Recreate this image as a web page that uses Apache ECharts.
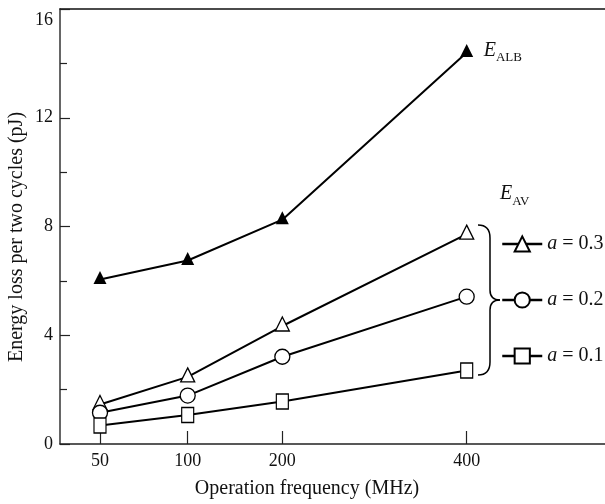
<!DOCTYPE html>
<html>
<head>
<meta charset="utf-8">
<script src="https://cdn.jsdelivr.net/npm/echarts@6/dist/echarts.min.js"></script>
<style>html,body{margin:0;padding:0;background:#fff}#c{width:605px;height:504px}</style>
</head>
<body>
<div id="c"></div>
<script>
// Data
const freqLabels = ['50', '100', '200', '400'];
// frequency positions on the (non-uniform) horizontal scale of the original figure
const freqPos = [1, 2, 3.079, 5.181];
const eALB = [6.05, 6.75, 8.25, 14.4];
const eAV03 = [1.45, 2.47, 4.34, 7.72];
const eAV02 = [1.15, 1.78, 3.21, 5.42];
const eAV01 = [0.68, 1.07, 1.56, 2.7];
const avNames = ['a = 0.3', 'a = 0.2', 'a = 0.1'];
const yTicks = [0, 4, 8, 12, 16];

const FONT = '"Liberation Serif", "Times New Roman", serif';
const pts = vals => freqPos.map((x, i) => [x, vals[i]]);

const chart = echarts.init(document.getElementById('c'), null, {renderer: 'canvas'});

const openStyle = {color: '#fff', borderColor: '#000', borderWidth: 1.3};
const lineStyle = {color: '#000', width: 2};

function labelFor(v) {
  let best = 0;
  for (let i = 1; i < freqPos.length; i++) {
    if (Math.abs(freqPos[i] - v) < Math.abs(freqPos[best] - v)) best = i;
  }
  return freqLabels[best];
}

const braceStyle = {fill: 'none', stroke: '#000', lineWidth: 1.5};
const quad = (x1, y1, cx, cy, x2, y2) => ({
  type: 'bezierCurve', shape: {x1: x1, y1: y1, cpx1: cx, cpy1: cy, x2: x2, y2: y2}, style: braceStyle
});
const seg = (x1, y1, x2, y2) => ({type: 'line', shape: {x1: x1, y1: y1, x2: x2, y2: y2}, style: braceStyle});

const option = {
  animation: false,
  backgroundColor: '#fff',
  grid: {left: 60, right: 0, top: 9, bottom: 60, containLabel: false},
  xAxis: [{
    type: 'value', min: 0.544, max: 6.758, position: 'bottom',
    axisLine: {show: true, lineStyle: {color: '#222', width: 1.5}},
    axisTick: {show: true, inside: true, length: 13, customValues: freqPos, lineStyle: {color: '#222', width: 1.2}},
    axisLabel: {customValues: freqPos, formatter: v => labelFor(v), fontFamily: FONT, fontSize: 18, color: '#111', margin: 8},
    splitLine: {show: false}
  }, {
    type: 'value', min: 0.544, max: 6.758, position: 'top',
    axisLine: {show: true, lineStyle: {color: '#111', width: 1.5}},
    axisTick: {show: false}, axisLabel: {show: false}, splitLine: {show: false}
  }],
  yAxis: {
    type: 'value', min: yTicks[0], max: yTicks[yTicks.length - 1], interval: 4,
    axisLine: {show: true, lineStyle: {color: '#333', width: 1.5}},
    axisTick: {show: true, inside: true, length: 10, lineStyle: {color: '#222', width: 1.2}},
    minorTick: {show: true, splitNumber: 2, length: 7, lineStyle: {color: '#222', width: 1.2}},
    axisLabel: {
      fontFamily: FONT, fontSize: 18, color: '#111', margin: 7,
      formatter: v => v === 16 ? '{t|16}' : String(v),
      rich: {t: {fontFamily: FONT, fontSize: 18, color: '#111', padding: [22, 0, 0, 0]}}
    },
    splitLine: {show: false}
  },
  legend: {
    data: avNames, orient: 'vertical', left: 501, top: 234, padding: 0,
    itemWidth: 40, itemHeight: 19, itemGap: 36, selectedMode: false,
    lineStyle: {width: 2.5, color: '#000'},
    formatter: n => '{i|a}{n|' + n.slice(1) + '}',
    textStyle: {
      fontFamily: FONT, fontSize: 20, color: '#111',
      rich: {
        i: {fontFamily: FONT, fontSize: 20, fontStyle: 'italic', color: '#111'},
        n: {fontFamily: FONT, fontSize: 20, color: '#111'}
      }
    }
  },
  series: [
    {
      name: 'E_ALB', type: 'line', data: pts(eALB),
      symbol: 'triangle', symbolSize: [13, 13], symbolOffset: [0, -2],
      itemStyle: {color: '#000'}, lineStyle: lineStyle,
      endLabel: {
        show: true, distance: 17, formatter: '{e|E}{s|ALB}',
        rich: {
          e: {fontFamily: FONT, fontSize: 20, fontStyle: 'italic', color: '#111', verticalAlign: 'top', lineHeight: 24},
          s: {fontFamily: FONT, fontSize: 13, color: '#111', verticalAlign: 'bottom', lineHeight: 14}
        }
      }
    },
    {
      name: avNames[0], type: 'line', data: pts(eAV03),
      symbol: 'triangle', symbolSize: [14, 14], symbolOffset: [0, -2],
      itemStyle: openStyle, lineStyle: lineStyle
    },
    {
      name: avNames[1], type: 'line', data: pts(eAV02),
      symbol: 'circle', symbolSize: 15,
      itemStyle: openStyle, lineStyle: lineStyle
    },
    {
      name: avNames[2], type: 'line', data: pts(eAV01),
      symbol: 'rect', symbolSize: [12, 15],
      itemStyle: openStyle, lineStyle: lineStyle
    }
  ],
  graphic: [
    quad(478, 225, 490, 225, 490, 238),
    seg(490, 238, 490, 290),
    quad(490, 290, 490, 300, 500, 300),
    quad(500, 300, 490, 300, 490, 310),
    seg(490, 310, 490, 362),
    quad(490, 362, 490, 375, 478, 375),
    {
      type: 'text', left: 500, top: 184,
      style: {
        text: '{e|E}{s|AV}',
        rich: {
          e: {fontFamily: FONT, fontSize: 20, fontStyle: 'italic', fill: '#111', verticalAlign: 'top', lineHeight: 24},
          s: {fontFamily: FONT, fontSize: 13, fill: '#111', verticalAlign: 'bottom', lineHeight: 14}
        }
      }
    },
    {
      type: 'text', x: 307, y: 489,
      style: {text: 'Operation frequency (MHz)', font: '20px ' + FONT, fill: '#111', align: 'center', verticalAlign: 'middle'}
    },
    {
      type: 'text', x: 17, y: 237, rotation: Math.PI / 2,
      style: {text: 'Energy loss per two cycles (pJ)', font: '20px ' + FONT, fill: '#111', align: 'center', verticalAlign: 'middle'}
    }
  ]
};
chart.setOption(option);
</script>
</body>
</html>
